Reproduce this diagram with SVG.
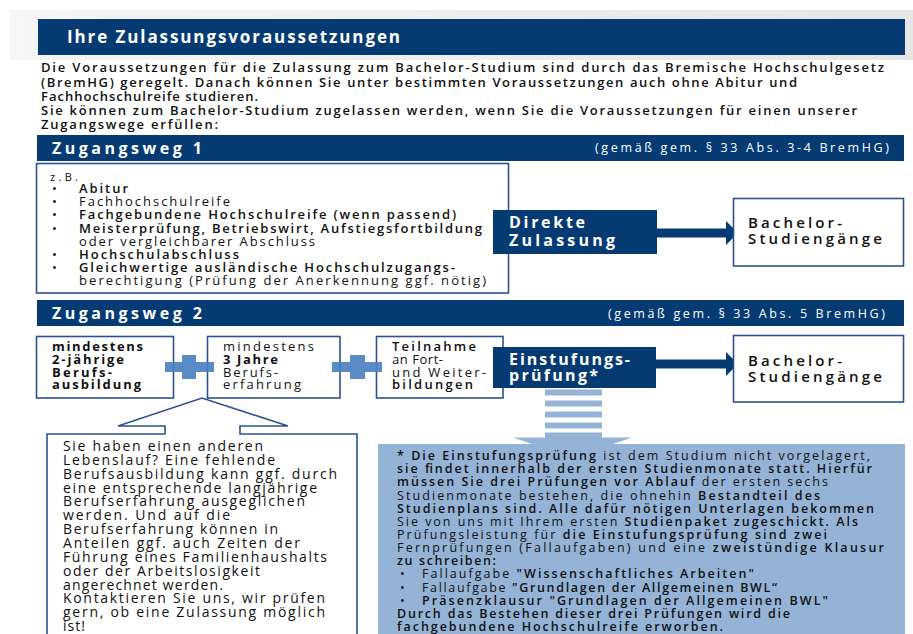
<svg xmlns="http://www.w3.org/2000/svg" width="913" height="634" viewBox="0 0 913 634">
<defs>
<style>
.nav{fill:#053a72}
.box{fill:#fff;stroke:#2d5193;stroke-width:1.6}
.t{font-family:"Open Sans","Liberation Sans",sans-serif;fill:#111}
.f11{font-size:11px}
.f12{font-size:12.5px}
.f13{font-size:13px}
.f14{font-size:14px}
.f15{font-size:15px}
.f16{font-size:16px}
.f17{font-size:17px}
.w{fill:#fff}
.b{font-weight:700}
.sb{font-weight:600}
.plus{fill:#4a7fc0;opacity:0.9}
.lb{fill:#95b3d7}
</style>
<linearGradient id="gr" x1="0" y1="0" x2="1" y2="0">
<stop offset="0" stop-color="#f6f6f6"/>
<stop offset="1" stop-color="#e6e6e6"/>
</linearGradient>
<marker id="ah" markerUnits="userSpaceOnUse" markerWidth="13" markerHeight="24" refX="2" refY="12" orient="auto">
<path d="M0,0 L12,12 L0,24 z" fill="#053a72"/>
</marker>
</defs>
<rect x="0" y="0" width="913" height="634" fill="#fff"/>
<rect x="10" y="10" width="903" height="50" fill="url(#gr)"/>

<g id="header">
<rect class="nav" x="38" y="19" width="867" height="36"/>
<text class="t f17 w b" x="67" y="43" textLength="333" lengthAdjust="spacing">Ihre Zulassungsvoraussetzungen</text>
</g>

<g id="intro" class="t f13 sb">
<text x="41" y="72" textLength="843" lengthAdjust="spacing">Die Voraussetzungen für die Zulassung zum Bachelor-Studium sind durch das Bremische Hochschulgesetz</text>
<text x="41" y="87" textLength="756" lengthAdjust="spacing">(BremHG) geregelt. Danach können Sie unter bestimmten Voraussetzungen auch ohne Abitur und</text>
<text x="41" y="101" textLength="217" lengthAdjust="spacing">Fachhochschulreife studieren.</text>
<text x="41" y="115" textLength="816" lengthAdjust="spacing">Sie können zum Bachelor-Studium zugelassen werden, wenn Sie die Voraussetzungen für einen unserer</text>
<text x="41" y="129" textLength="177" lengthAdjust="spacing">Zugangswege erfüllen:</text>
</g>

<g id="zugangsweg1-bar">
<rect class="nav" x="37" y="135" width="867" height="26"/>
<text class="t f16 w b" x="52" y="154" textLength="150" lengthAdjust="spacing">Zugangsweg 1</text>
<text class="t f12 w" x="595" y="152" textLength="294" lengthAdjust="spacing">(gemäß gem. § 33 Abs. 3-4 BremHG)</text>
</g>

<g id="zw1-list">
<rect class="box" x="36.5" y="163.5" width="472" height="129.5"/>
<text class="t f11" x="50" y="181" textLength="28" lengthAdjust="spacing">z.B.</text>
<g class="t f13">
<text x="52" y="193">•</text><text x="79" y="193" class="sb" textLength="49" lengthAdjust="spacing">Abitur</text>
<text x="52" y="206">•</text><text x="79" y="206" textLength="151" lengthAdjust="spacing">Fachhochschulreife</text>
<text x="52" y="219">•</text><text x="79" y="219" class="sb" textLength="377" lengthAdjust="spacing">Fachgebundene Hochschulreife (wenn passend)</text>
<text x="52" y="233">•</text><text x="79" y="233" class="sb" textLength="403" lengthAdjust="spacing">Meisterprüfung, Betriebswirt, Aufstiegsfortbildung</text>
<text x="79" y="246" textLength="236" lengthAdjust="spacing">oder vergleichbarer Abschluss</text>
<text x="52" y="259">•</text><text x="79" y="259" class="sb" textLength="160" lengthAdjust="spacing">Hochschulabschluss</text>
<text x="52" y="272">•</text><text x="79" y="272" class="sb" textLength="376" lengthAdjust="spacing">Gleichwertige ausländische Hochschulzugangs-</text>
<text x="79" y="285" textLength="407" lengthAdjust="spacing">berechtigung (Prüfung der Anerkennung ggf. nötig)</text>
</g>
</g>

<g id="connectors">
<path d="M657,233 H728" stroke="#053a72" stroke-width="9" fill="none" marker-end="url(#ah)"/>
<path d="M656,364 H728" stroke="#053a72" stroke-width="9" fill="none" marker-end="url(#ah)"/>
<g id="striped-arrow" class="lb">
<rect x="545" y="389.5" width="57" height="6"/>
<rect x="545" y="400.5" width="57" height="6"/>
<rect x="545" y="411.5" width="57" height="6"/>
<rect x="545" y="422.5" width="57" height="6"/>
<rect x="545" y="432.5" width="57" height="6"/>
<polygon points="513,437.5 632,437.5 572.5,458"/>
</g>
</g>

<g id="direkte-zulassung">
<rect class="nav" x="493" y="210" width="164" height="44"/>
<text class="t f16 w b" x="509" y="228" textLength="76" lengthAdjust="spacing">Direkte</text>
<text class="t f16 w b" x="509" y="246" textLength="106" lengthAdjust="spacing">Zulassung</text>
</g>

<g id="bachelor1">
<rect class="box" x="733.5" y="198.5" width="170" height="67.5"/>
<text class="t f15 sb" x="748" y="228" textLength="94" lengthAdjust="spacing">Bachelor-</text>
<text class="t f15 sb" x="748" y="244" textLength="134" lengthAdjust="spacing">Studiengänge</text>
</g>

<g id="zugangsweg2-bar">
<rect class="nav" x="37" y="300" width="867" height="26"/>
<text class="t f16 w b" x="52" y="319" textLength="150" lengthAdjust="spacing">Zugangsweg 2</text>
<text class="t f12 w" x="608" y="318" textLength="277" lengthAdjust="spacing">(gemäß gem. § 33 Abs. 5 BremHG)</text>
</g>

<g id="ausbildung" class="t f13">
<rect class="box" x="36.5" y="336.5" width="137" height="61.5"/>
<text class="b" x="52" y="351" textLength="91" lengthAdjust="spacing">mindestens</text>
<text class="b" x="52" y="364" textLength="72" lengthAdjust="spacing">2-jährige</text>
<text class="b" x="52" y="376.5" textLength="60" lengthAdjust="spacing">Berufs-</text>
<text class="b" x="52" y="389" textLength="89" lengthAdjust="spacing">ausbildung</text>
</g>

<g id="berufserfahrung" class="t f13">
<rect class="box" x="207.5" y="336.5" width="132.5" height="61.5"/>
<text x="223" y="351" textLength="91" lengthAdjust="spacing">mindestens</text>
<text class="b" x="223" y="364" textLength="55" lengthAdjust="spacing">3 Jahre</text>
<text x="223" y="376.5" textLength="55" lengthAdjust="spacing">Berufs-</text>
<text x="223" y="389" textLength="78" lengthAdjust="spacing">erfahrung</text>
</g>

<g id="weiterbildung" class="t f13">
<rect class="box" x="376.5" y="336.5" width="126.5" height="61.5"/>
<text class="sb" x="392" y="351" textLength="84" lengthAdjust="spacing">Teilnahme</text>
<text x="392" y="364" textLength="51" lengthAdjust="spacing">an Fort-</text>
<text x="392" y="376.5" textLength="94" lengthAdjust="spacing">und Weiter-</text>
<text class="sb" x="392" y="389" textLength="81" lengthAdjust="spacing">bildungen</text>
</g>

<g id="plus1" class="plus">
<rect x="165" y="362" width="49" height="10"/>
<rect x="182" y="355" width="14" height="7"/>
<rect x="182" y="372" width="14" height="7"/>
</g>
<g id="plus2" class="plus">
<rect x="332" y="362" width="50" height="10"/>
<rect x="350" y="355" width="15" height="7"/>
<rect x="350" y="372" width="15" height="7"/>
</g>

<g id="einstufungspruefung">
<rect class="nav" x="493" y="347" width="163" height="41"/>
<text class="t f16 w b" x="509" y="365" textLength="121" lengthAdjust="spacing">Einstufungs-</text>
<text class="t f16 w b" x="509" y="381" textLength="89" lengthAdjust="spacing">prüfung*</text>
</g>

<g id="bachelor2">
<rect class="box" x="733.5" y="335.5" width="170" height="66.5"/>
<text class="t f15 sb" x="748" y="366" textLength="94" lengthAdjust="spacing">Bachelor-</text>
<text class="t f15 sb" x="748" y="382" textLength="134" lengthAdjust="spacing">Studiengänge</text>
</g>

<g id="hinweis-callout">
<path d="M47,640 V434 H165 V426 H118 L202,398 L288,426 H240 V434 H357 V640" fill="#fff" stroke="#2d5193" stroke-width="1.6"/>
<g class="t f14">
<text x="63" y="451" textLength="200" lengthAdjust="spacing">Sie haben einen anderen</text>
<text x="63" y="464.9" textLength="212" lengthAdjust="spacing">Lebenslauf? Eine fehlende</text>
<text x="63" y="478.7" textLength="274" lengthAdjust="spacing">Berufsausbildung kann ggf. durch</text>
<text x="63" y="492.6" textLength="254" lengthAdjust="spacing">eine entsprechende langjährige</text>
<text x="63" y="506.4" textLength="242" lengthAdjust="spacing">Berufserfahrung ausgeglichen</text>
<text x="63" y="520.3" textLength="167" lengthAdjust="spacing">werden. Und auf die</text>
<text x="63" y="534.1" textLength="215" lengthAdjust="spacing">Berufserfahrung können in</text>
<text x="63" y="548" textLength="237" lengthAdjust="spacing">Anteilen ggf. auch Zeiten der</text>
<text x="63" y="561.8" textLength="264" lengthAdjust="spacing">Führung eines Familienhaushalts</text>
<text x="63" y="575.7" textLength="197" lengthAdjust="spacing">oder der Arbeitslosigkeit</text>
<text x="63" y="589.5" textLength="160" lengthAdjust="spacing">angerechnet werden.</text>
<text x="63" y="603.4" textLength="262" lengthAdjust="spacing">Kontaktieren Sie uns, wir prüfen</text>
<text x="63" y="617.2" textLength="262" lengthAdjust="spacing">gern, ob eine Zulassung möglich</text>
<text x="63" y="631.1" textLength="22" lengthAdjust="spacing">ist!</text>
</g>
</g>

<g id="einstufung-info">
<rect class="lb" x="378" y="444" width="527" height="195"/>
<g class="t f12">
<text x="397" y="460" textLength="473" lengthAdjust="spacing"><tspan class="sb">* Die Einstufungsprüfung</tspan> ist dem Studium nicht vorgelagert,</text>
<text x="397" y="473.2" class="sb" textLength="475" lengthAdjust="spacing">sie findet innerhalb der ersten Studienmonate statt. Hierfür</text>
<text x="397" y="486.3" textLength="431" lengthAdjust="spacing"><tspan class="sb">müssen Sie drei Prüfungen vor Ablauf</tspan> der ersten sechs</text>
<text x="397" y="499.5" textLength="423" lengthAdjust="spacing">Studienmonate bestehen, die ohnehin <tspan class="sb">Bestandteil des</tspan></text>
<text x="397" y="512.6" class="sb" textLength="477" lengthAdjust="spacing">Studienplans sind. Alle dafür nötigen Unterlagen bekommen</text>
<text x="397" y="525.8" textLength="461" lengthAdjust="spacing">Sie von uns mit Ihrem ersten <tspan class="sb">Studienpaket zugeschickt. Als</tspan></text>
<text x="397" y="538.9" textLength="430" lengthAdjust="spacing">Prüfungsleistung für <tspan class="sb">die Einstufungsprüfung sind zwei</tspan></text>
<text x="397" y="552.1" textLength="487" lengthAdjust="spacing">Fernprüfungen (Fallaufgaben) und eine <tspan class="sb">zweistündige Klausur</tspan></text>
<text x="397" y="565.2" class="sb" textLength="99" lengthAdjust="spacing">zu schreiben:</text>
<text x="400" y="578.4">•</text><text x="422" y="578.4" textLength="332" lengthAdjust="spacing">Fallaufgabe <tspan class="sb">"Wissenschaftliches Arbeiten"</tspan></text>
<text x="400" y="591.5">•</text><text x="422" y="591.5" textLength="355" lengthAdjust="spacing">Fallaufgabe <tspan class="sb">"Grundlagen der Allgemeinen BWL“</tspan></text>
<text x="400" y="604.7">•</text><text x="422" y="604.7" class="sb" textLength="406" lengthAdjust="spacing">Präsenzklausur "Grundlagen der Allgemeinen BWL"</text>
<text x="397" y="617.8" class="sb" textLength="393" lengthAdjust="spacing">Durch das Bestehen dieser drei Prüfungen wird die</text>
<text x="397" y="631" class="sb" textLength="326" lengthAdjust="spacing">fachgebundene Hochschulreife erworben.</text>
</g>
</g>
</svg>
